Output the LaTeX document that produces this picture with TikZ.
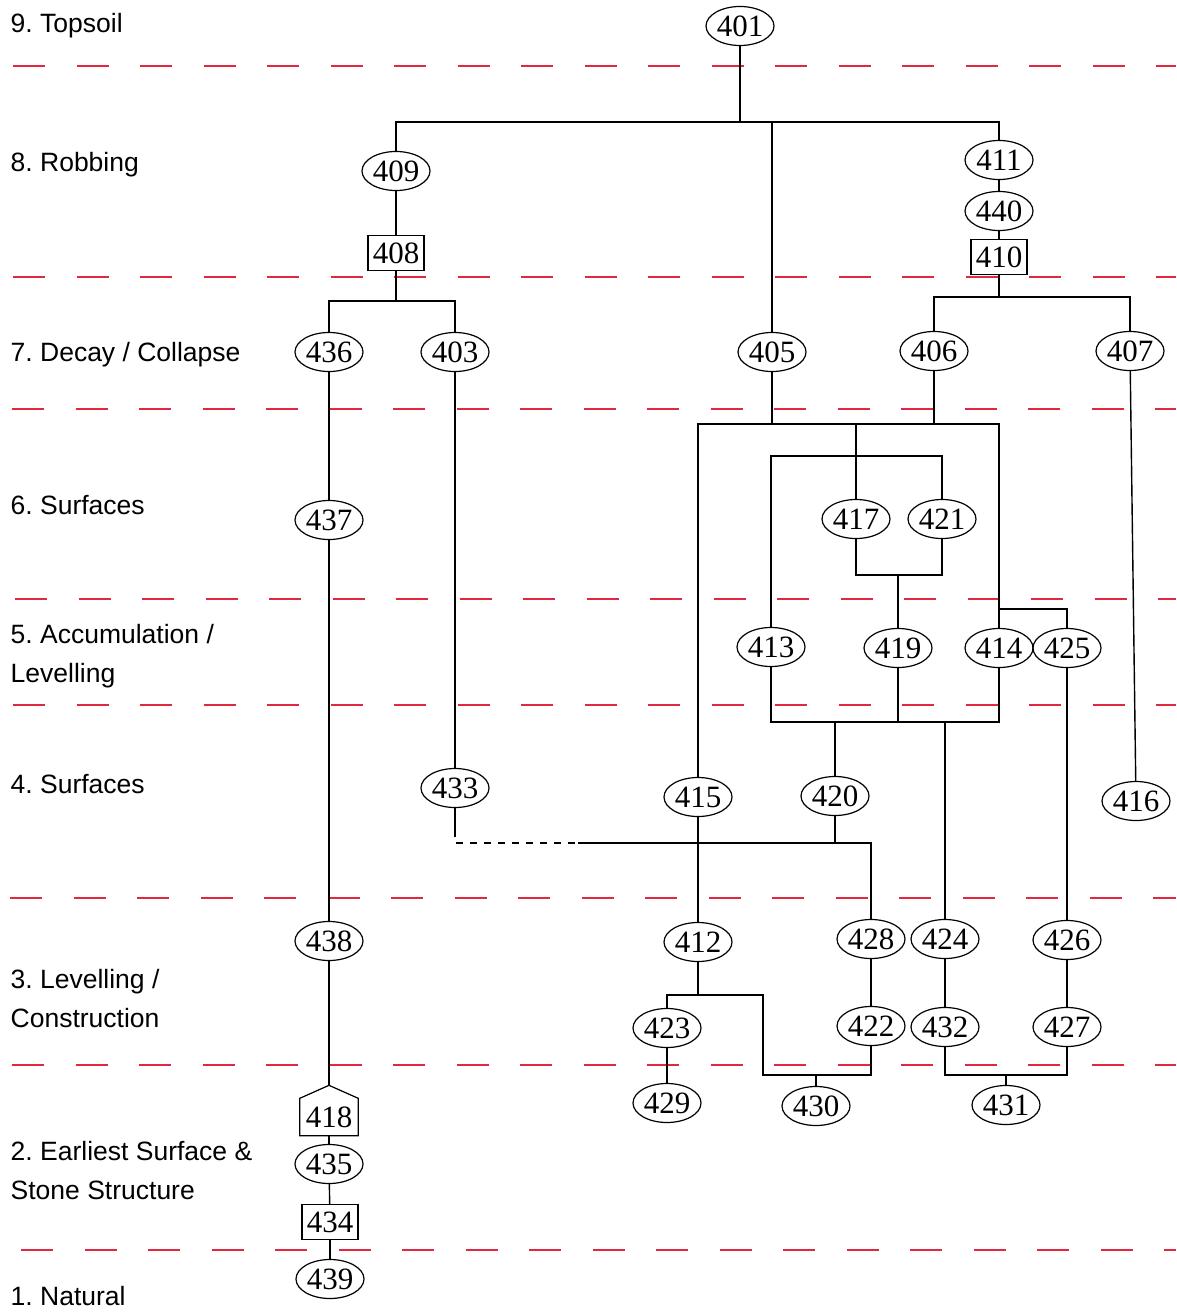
\documentclass[tikz,border=0pt]{standalone}
\usepackage{fontspec}
\setmainfont{Liberation Serif}
\newfontfamily\labfont{Liberation Sans}
\usetikzlibrary{shapes.geometric,calc}
\definecolor{redline}{RGB}{226,40,64}
\frenchspacing
\begin{document}
\begin{tikzpicture}[x=1pt,y=-1pt,
  ov/.style={ellipse, draw, line width=1.2pt, minimum width=68pt, minimum height=39pt, inner sep=0pt, font=\fontsize{31}{31}\selectfont},
  bx/.style={rectangle, draw, line width=1.2pt, minimum width=56pt, minimum height=35pt, inner sep=0pt, font=\fontsize{31}{31}\selectfont},
  lab/.style={anchor=base west, inner sep=0pt, font=\labfont\fontsize{26.5}{30}\selectfont},
  strat/.style={draw=redline, line width=2pt, dash pattern=on 32pt off 31.5pt},
  every path/.style={line width=1.4pt}]
\useasboundingbox (0,0) rectangle (1176,1314);
% stratigraphic phase separators
\draw[strat, dash phase=50.5pt] (0,66) -- (1176,66);
\draw[strat, dash phase=50.5pt] (0,277) -- (1176,277);
\draw[strat, dash phase=51.5pt] (0,409) -- (1176,409);
\draw[strat, dash phase=48.5pt] (0,599) -- (1176,599);
\draw[strat, dash phase=50.5pt] (0,705) -- (1176,705);
\draw[strat, dash phase=53.5pt] (0,898) -- (1176,898);
\draw[strat, dash phase=51.5pt] (0,1065) -- (1176,1065);
\draw[strat, dash phase=42.5pt] (0,1250) -- (1176,1250);
% labels
\node[lab] (l9) at (10,33) {9. Topsoil};
\node[lab] (l8) at (10,171) {8. Robbing};
\node[lab] (l7) at (10,361) {7. Decay / Collapse};
\node[lab] (l6) at (10,514) {6. Surfaces};
\node[lab] (l5a) at (10,643) {5. Accumulation /};
\node[lab] (l5b) at (10,682) {Levelling};
\node[lab] (l4) at (10,793) {4. Surfaces};
\node[lab] (l3a) at (10,988) {3. Levelling /};
\node[lab] (l3b) at (10,1027) {Construction};
\node[lab] (l2a) at (10,1160) {2. Earliest Surface \&};
\node[lab] (l2b) at (10,1199) {Stone Structure};
\node[lab] (l1) at (10,1305) {1. Natural};
% nodes
\node[ov] (n401) at (740,26) {401};
\node[ov] (n409) at (396,171) {409};
\node[bx] (n408) at (396,253) {408};
\node[ov] (n411) at (999,160) {411};
\node[ov] (n440) at (999,211) {440};
\node[bx] (n410) at (999,257) {410};
\node[ov] (n436) at (329,352) {436};
\node[ov] (n403) at (455,352) {403};
\node[ov] (n405) at (772,352) {405};
\node[ov] (n406) at (934,351) {406};
\node[ov] (n407) at (1130,351) {407};
\node[ov] (n437) at (329,520) {437};
\node[ov] (n417) at (856,519) {417};
\node[ov] (n421) at (942,519) {421};
\node[ov] (n413) at (771,647) {413};
\node[ov] (n419) at (898,648) {419};
\node[ov] (n414) at (999,648) {414};
\node[ov] (n425) at (1067,648) {425};
\node[ov] (n433) at (455,788) {433};
\node[ov] (n415) at (698,797) {415};
\node[ov] (n420) at (835,796) {420};
\node[ov] (n416) at (1136,801) {416};
\node[ov] (n438) at (329,941) {438};
\node[ov] (n412) at (698,942) {412};
\node[ov] (n428) at (871,939) {428};
\node[ov] (n424) at (945,939) {424};
\node[ov] (n426) at (1067,940) {426};
\node[ov] (n423) at (667,1028) {423};
\node[ov] (n422) at (871,1026) {422};
\node[ov] (n432) at (945,1027) {432};
\node[ov] (n427) at (1067,1027) {427};
\node[ov] (n429) at (667,1103) {429};
\node[ov] (n430) at (816,1106) {430};
\node[ov] (n431) at (1006,1105) {431};
\node[inner sep=0pt, minimum width=57pt, minimum height=36pt, font=\fontsize{31}{31}\selectfont] (n418) at (329,1117) {418};
\coordinate (p418) at ($(n418.north)+(0,-13)$);
\draw[line width=1.2pt] (n418.south west) -- (n418.north west) -- (p418) -- (n418.north east) -- (n418.south east) -- cycle;
\node[ov] (n435) at (329,1164) {435};
\node[bx] (n434) at (330,1222) {434};
\node[ov] (n439) at (330,1279) {439};
% junctions
\coordinate (jT) at (740,122);
\coordinate (j408) at (396,301);
\coordinate (j410) at (999,297);
\coordinate (jR) at (999,424);
\coordinate (jB) at (856,456);
\coordinate (jC) at (898,575);
\coordinate (jD) at (999,609);
\coordinate (jE) at (835,722);
\coordinate (jE2) at (945,722);
\coordinate (jG0) at (456,843);
\coordinate (jG1) at (575,843);
\coordinate (jG2) at (578,843);
\coordinate (jI) at (698,995);
\coordinate (jJ) at (763,1075);
\coordinate (jK) at (1006,1075);
% connectors
\draw (n401) -- (jT);
\draw (n409.north) |- (jT) -| (n411.north);
\draw (n405.north) -- (n405.north |- jT);
\draw (n409) -- (n408);
\draw (n408.south) -- (j408);
\draw (n436.north) |- (j408) -| (n403.north);
\draw (n411) -- (n440);
\draw (n440) -- (n410);
\draw (n410.south) -- (j410);
\draw (n406.north) |- (j410) -| (n407.north);
\draw (n405.south) -- (n405.south |- jR);
\draw (n406.south) -- (n406.south |- jR);
\draw (n415.north) |- (jR) -- (n414.north);
\draw (jB |- jR) -- (jB);
\draw (n413.north) |- (jB) -| (n421.north);
\draw (jB) -- (n417.north);
\draw (n417.south) |- (jC) -| (n421.south);
\draw (jC) -- (n419.north);
\draw (jD) -| (n425.north);
\draw (n413.south) |- (jE2) -| (n414.south);
\draw (n419.south) -- (n419.south |- jE);
\draw (jE) -- (n420.north);
\draw (jE2) -- (n424.north);
\draw (n425) -- (n426);
\draw (n426) -- (n427);
\draw (n407) -- (n416);
\draw (n403) -- (n433);
\draw (n433.south) -- ++(0,29);
\draw[dash pattern=on 7pt off 7pt] (jG0) -- (jG1);
\draw (jG2) -| (n428.north);
\draw (n420.south) -- (n420.south |- jG2);
\draw (n415) -- (n412);
\draw (n412.south) -- (jI);
\draw (n423.north) |- (jI) -| (jJ) -| (n422.south);
\draw (n430.north) -- (n430.north |- jJ);
\draw (n428) -- (n422);
\draw (n424) -- (n432);
\draw (n423) -- (n429);
\draw (n432.south) |- (jK) -| (n427.south);
\draw (jK) -- (n431.north);
\draw (n436) -- (n437);
\draw (n437) -- (n438);
\draw (n438.south) -- (p418);
\draw (n418.south) -- (n435.north);
\draw (n435) -- (n434);
\draw (n434) -- (n439);
\end{tikzpicture}
\end{document}
